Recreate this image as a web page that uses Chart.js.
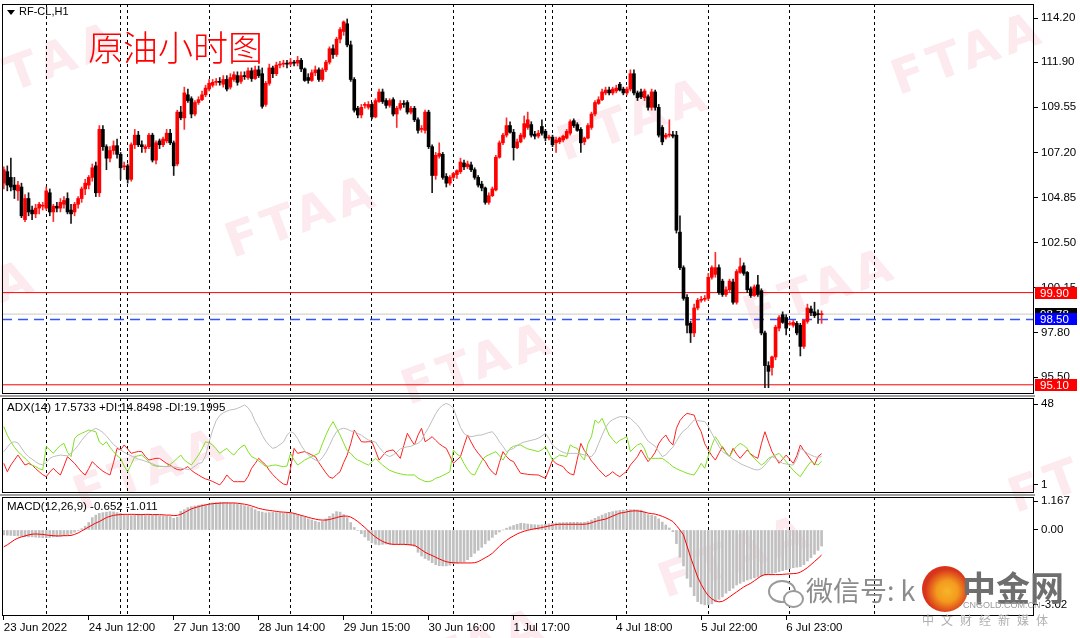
<!DOCTYPE html>
<html>
<head>
<meta charset="utf-8">
<title>RF-CL,H1</title>
<script src="https://cdn.jsdelivr.net/npm/chart.js@4.4.1/dist/chart.umd.min.js"></script>
<style>
  body { margin: 0; background: #fff; }
  #wrap { position: relative; width: 1080px; height: 638px; overflow: hidden; font-family: 'Liberation Sans', Arial, sans-serif; }
  canvas { position: absolute; left: 0; z-index: 1; }
  .wm { position: absolute; z-index: 0; color: rgba(235, 90, 130, 0.14); font: bold 48px 'DejaVu Sans', sans-serif;
        letter-spacing: 6px; white-space: nowrap; transform: translate(-50%, -50%) rotate(-20deg); }
  .txt { position: absolute; z-index: 2; white-space: nowrap; }
  .divider { position: absolute; left: 0; width: 1035px; height: 2px; background: #a0a0a0; z-index: 2; }
</style>
</head>
<body>
<div id="wrap">
  <div class="wm" style="left:45px;top:62px">FTAA</div>
  <div class="wm" style="left:302px;top:215px">FTAA</div>
  <div class="wm" style="left:634px;top:118px">FTAA</div>
  <div class="wm" style="left:968px;top:52px">FTAA</div>
  <div class="wm" style="left:-40px;top:300px">FTAA</div>
  <div class="wm" style="left:478px;top:362px">FTAA</div>
  <div class="wm" style="left:820px;top:288px">FTAA</div>
  <div class="wm" style="left:150px;top:468px">FTAA</div>
  <div class="wm" style="left:1085px;top:470px">FTAA</div>
  <div class="wm" style="left:735px;top:555px">FTAA</div>
  <div class="wm" style="left:470px;top:648px">FTAA</div>

  <canvas id="mainChart" width="1080" height="395" style="top:0"></canvas>
  <canvas id="adxChart" width="1080" height="100" style="top:395px"></canvas>
  <canvas id="macdChart" width="1080" height="143" style="top:495px"></canvas>

  <div class="divider" style="top:395px"></div>
  <div class="divider" style="top:494px"></div>

  <div class="txt" style="left:7px;top:10px;width:0;height:0;border-left:4px solid transparent;border-right:4px solid transparent;border-top:5px solid #000"></div>
  <div class="txt" style="left:19px;top:5px;font-size:11px;color:#000">RF-CL,H1</div>
  <div class="txt" style="left:88px;top:20px;font:300 35px 'Noto Sans CJK SC', sans-serif;color:#ff0000">原油小时图</div>
  <div class="txt" style="left:7px;top:401px;font-size:11.5px;color:#000">ADX(14) 17.5733 +DI:14.8498 -DI:19.1995</div>
  <div class="txt" style="left:7px;top:500px;font-size:11.5px;color:#000">MACD(12,26,9) -0.652 -1.011</div>

  <div class="txt" style="left:768px;top:580px;width:24px;height:19px;border:2px solid #9a9a9a;border-radius:50%"></div>
  <div class="txt" style="left:783px;top:590px;width:17px;height:14px;border:2px solid #9a9a9a;border-radius:50%;background:#fff"></div>
  <div class="txt" style="left:806px;top:570px;font:27px 'Noto Sans CJK SC', sans-serif;color:#8c8c8c">微信号: k</div>
  <div class="txt" style="left:922px;top:566px;width:46px;height:46px;border-radius:50%;background:radial-gradient(circle at 55% 55%, #f7b52a 0, #f39a1e 30%, #d8341c 62%)"></div>
  <div class="txt" style="left:962px;top:562px;font:bold 34px 'Noto Sans CJK SC', sans-serif;color:#6e6e6e">中金网</div>
  <div class="txt" style="left:963px;top:600px;font-size:9px;color:#9a9a9a">CNGOLD.COM.CN</div>
  <div class="txt" style="left:922px;top:611px;font:12px 'Noto Sans CJK SC', sans-serif;color:#b0b0b0;letter-spacing:7px">中文财经新媒体</div>
</div>

<script>
// ---- data ----
const timeLabels = ['23 Jun 2022', '24 Jun 12:00', '27 Jun 13:00', '28 Jun 14:00', '29 Jun 15:00',
                    '30 Jun 16:00', '1 Jul 17:00', '4 Jul 18:00', '5 Jul 22:00', '6 Jul 23:00'];
const labelBars = [0, 24, 48, 72, 96, 120, 144, 173, 197, 221];
const daySeparators = [12, 33, 35, 58, 81, 104, 127, 153, 155, 176, 199, 222, 246];

const opens = [
  105.60, 106.20, 105.90, 105.50, 105.20, 105.40, 103.70, 104.80, 104.20, 104.00,
  104.30, 104.40, 104.30, 105.10, 104.10, 104.40, 104.30, 104.50, 104.80, 104.20,
  104.10, 104.50, 104.80, 105.30, 105.50, 105.90, 106.50, 105.10, 108.40, 107.50,
  106.90, 107.30, 107.55, 107.10, 106.45, 106.50, 105.80, 107.60, 108.10, 107.60,
  107.40, 107.50, 108.10, 106.80, 107.80, 107.60, 107.80, 108.20, 107.70, 106.60,
  109.30, 109.00, 110.20, 110.00, 109.20, 109.80, 109.95, 110.20, 110.50, 110.70,
  110.85, 110.90, 110.75, 111.00, 110.60, 111.00, 111.20, 110.90, 111.20, 111.10,
  111.45, 111.05, 111.50, 111.30, 109.70, 110.80, 111.60, 111.30, 111.75, 111.80,
  111.85, 111.80, 111.90, 111.85, 112.00, 111.55, 111.10, 110.95, 111.35, 111.50,
  111.00, 111.50, 111.90, 112.60, 112.30, 113.10, 113.50, 113.90, 112.80, 111.00,
  109.50, 109.15, 109.65, 109.55, 109.70, 109.05, 109.85, 110.35, 109.90, 109.65,
  109.95, 109.20, 109.50, 109.75, 109.80, 109.30, 109.50, 108.90, 108.40, 108.35,
  109.30, 107.50, 106.00, 107.00, 107.10, 105.95, 105.60, 105.90, 106.05, 106.20,
  106.65, 106.45, 106.55, 106.30, 105.90, 105.55, 105.35, 104.60, 104.95, 105.25,
  106.95, 107.70, 108.10, 108.60, 108.25, 107.45, 107.75, 108.00, 108.50, 108.65,
  108.15, 108.05, 108.55, 108.30, 107.95, 108.00, 107.70, 107.75, 107.85, 107.95,
  108.20, 108.85, 108.65, 108.40, 107.75, 107.95, 108.50, 109.20, 109.75, 109.95,
  110.30, 110.45, 110.30, 110.40, 110.75, 110.50, 110.30, 110.50, 111.30, 110.30,
  110.35, 110.05, 110.10, 109.55, 110.35, 109.55, 108.50, 108.00, 108.10, 108.12,
  108.10, 103.05, 101.20, 99.65, 98.30, 97.80, 99.10, 99.50, 99.55, 99.60,
  100.70, 100.85, 101.20, 100.50, 99.80, 100.05, 100.45, 99.40, 100.95, 101.30,
  100.95, 100.10, 99.75, 100.30, 100.00, 97.80, 96.10, 96.00, 96.55, 98.05,
  98.75, 98.60, 98.25, 98.20, 98.30, 98.20, 97.10, 98.40, 99.05, 98.90,
  98.80, 98.75
];
const highs = [
  106.45, 106.50, 106.90, 105.90, 105.70, 105.60, 105.00, 105.10, 104.40, 104.50,
  104.60, 104.60, 105.40, 105.30, 104.50, 104.60, 104.80, 104.90, 105.10, 104.50,
  104.60, 104.90, 105.40, 105.80, 106.00, 106.60, 106.70, 108.60, 108.60, 107.60,
  107.50, 107.80, 107.90, 107.20, 106.70, 106.60, 107.70, 108.40, 108.30, 107.80,
  107.60, 108.20, 108.20, 107.80, 107.90, 108.00, 108.40, 108.40, 107.80, 109.40,
  109.60, 110.60, 110.50, 110.10, 109.90, 110.10, 110.40, 110.70, 111.00, 111.00,
  111.05, 111.10, 111.20, 111.20, 111.30, 111.40, 111.40, 111.40, 111.40, 111.60,
  111.60, 111.70, 111.70, 111.60, 110.90, 111.80, 111.70, 111.90, 111.95, 112.00,
  112.00, 112.10, 112.00, 112.20, 112.10, 111.60, 111.30, 111.50, 111.70, 111.60,
  111.60, 112.00, 112.70, 112.80, 113.20, 113.70, 114.05, 114.15, 113.00, 111.10,
  109.60, 109.70, 109.80, 109.85, 109.80, 110.00, 110.50, 110.50, 110.00, 110.00,
  110.05, 109.60, 109.90, 109.90, 109.90, 109.60, 109.60, 109.00, 108.60, 109.40,
  109.40, 107.60, 107.20, 107.70, 107.20, 106.10, 106.00, 106.15, 106.30, 106.90,
  106.80, 106.75, 106.70, 106.40, 106.00, 105.70, 105.40, 105.10, 105.40, 107.05,
  107.80, 108.20, 109.00, 108.80, 108.40, 107.90, 108.20, 109.10, 109.30, 108.80,
  108.30, 108.35, 108.90, 108.40, 108.10, 108.10, 108.00, 108.00, 108.10, 108.40,
  108.90, 108.95, 108.75, 108.50, 108.00, 108.70, 109.30, 109.90, 110.10, 110.50,
  110.60, 110.60, 110.60, 110.70, 110.85, 110.60, 110.60, 111.50, 111.50, 110.40,
  110.50, 110.50, 110.20, 110.50, 110.45, 109.70, 108.60, 108.20, 108.90, 108.30,
  108.30, 103.90, 101.30, 99.80, 98.40, 99.30, 99.60, 99.70, 99.75, 100.90,
  101.30, 102.00, 101.35, 100.60, 100.20, 100.60, 100.60, 101.10, 101.70, 101.45,
  101.00, 100.20, 100.30, 100.80, 100.10, 97.90, 96.30, 96.60, 98.20, 98.70,
  98.90, 98.75, 98.40, 98.45, 98.40, 98.30, 98.50, 99.30, 99.20, 99.40,
  99.00, 98.95
];
const lows = [
  105.30, 105.20, 105.20, 104.80, 104.70, 103.80, 103.60, 103.90, 103.70, 103.80,
  104.00, 104.20, 104.20, 103.90, 103.60, 104.10, 104.10, 104.30, 104.00, 103.50,
  103.90, 104.30, 104.60, 105.00, 105.30, 105.70, 104.90, 104.90, 107.30, 106.30,
  106.70, 107.10, 106.90, 105.80, 106.30, 105.60, 105.70, 107.40, 107.50, 107.20,
  107.20, 107.40, 106.70, 106.60, 107.40, 107.50, 107.70, 107.60, 106.00, 106.50,
  108.90, 108.40, 109.80, 109.00, 109.10, 109.70, 109.90, 110.10, 110.40, 110.60,
  110.70, 110.70, 110.60, 110.40, 110.50, 110.90, 110.70, 110.80, 111.00, 111.00,
  110.90, 111.00, 111.10, 109.50, 109.60, 110.70, 111.10, 111.20, 111.60, 111.65,
  111.60, 111.70, 111.70, 111.70, 111.40, 110.90, 110.80, 110.90, 111.20, 110.90,
  110.90, 111.40, 111.80, 112.10, 112.20, 112.90, 113.30, 112.70, 110.90, 109.30,
  109.00, 109.00, 109.50, 109.45, 108.95, 109.00, 109.80, 109.75, 109.50, 109.55,
  109.10, 108.50, 109.40, 109.55, 109.20, 109.20, 108.80, 108.20, 108.25, 108.20,
  107.40, 105.10, 105.80, 106.90, 105.80, 105.40, 105.50, 105.80, 105.85, 106.10,
  106.30, 106.35, 106.20, 105.80, 105.40, 105.20, 104.50, 104.50, 104.90, 105.20,
  106.90, 107.60, 108.00, 108.20, 106.80, 107.40, 107.70, 107.90, 108.40, 108.00,
  107.90, 107.95, 108.10, 107.80, 107.85, 107.50, 107.20, 107.65, 107.75, 107.90,
  108.10, 108.50, 108.30, 107.20, 107.60, 107.90, 108.40, 109.10, 109.70, 109.90,
  110.20, 110.20, 110.20, 110.30, 110.40, 110.20, 110.20, 110.40, 110.20, 109.90,
  110.00, 109.90, 109.40, 109.40, 109.40, 108.00, 107.60, 107.90, 108.00, 107.95,
  103.00, 101.10, 99.50, 97.80, 97.30, 97.60, 99.00, 99.40, 99.45, 99.50,
  100.60, 100.70, 99.80, 99.70, 99.70, 99.90, 99.30, 99.30, 100.90, 100.80,
  99.90, 99.65, 99.70, 99.70, 97.70, 94.95, 94.95, 95.60, 96.40, 97.90,
  98.30, 97.70, 98.20, 98.10, 97.70, 96.60, 97.00, 98.30, 98.70, 98.60,
  98.30, 98.30
];
const closes = [
  106.30, 105.50, 105.40, 105.25, 105.50, 103.90, 104.80, 104.10, 104.00, 104.30,
  104.50, 104.42, 105.20, 104.10, 104.40, 104.30, 104.60, 104.70, 104.10, 104.00,
  104.50, 104.80, 105.30, 105.60, 105.90, 106.40, 105.10, 108.40, 107.50, 106.90,
  107.30, 107.55, 107.10, 106.40, 106.50, 105.80, 107.60, 108.10, 107.60, 107.50,
  107.50, 108.10, 106.80, 107.70, 107.60, 107.90, 108.20, 107.70, 106.50, 109.30,
  109.00, 110.30, 109.90, 109.20, 109.80, 109.95, 110.20, 110.55, 110.80, 110.85,
  110.90, 110.85, 111.00, 110.50, 111.10, 111.25, 110.85, 111.20, 111.15, 111.45,
  111.05, 111.50, 111.20, 109.60, 110.80, 111.60, 111.30, 111.75, 111.80, 111.85,
  111.80, 111.90, 111.85, 112.00, 111.55, 110.95, 110.95, 111.35, 111.50, 111.00,
  111.50, 111.90, 112.60, 112.30, 113.10, 113.60, 114.00, 112.80, 111.00, 109.40,
  109.15, 109.55, 109.70, 109.70, 109.05, 109.90, 110.35, 109.85, 109.65, 109.90,
  109.20, 109.50, 109.75, 109.70, 109.30, 109.50, 108.90, 108.35, 108.45, 109.30,
  107.50, 106.00, 107.05, 107.15, 105.90, 105.60, 105.90, 106.10, 106.25, 106.70,
  106.45, 106.60, 106.30, 105.90, 105.50, 105.35, 104.60, 104.95, 105.30, 106.95,
  107.70, 108.10, 108.60, 108.25, 107.45, 107.75, 108.10, 108.70, 108.90, 108.10,
  108.05, 108.20, 108.20, 107.95, 108.00, 107.60, 107.85, 107.95, 108.05, 108.30,
  108.80, 108.60, 108.35, 107.70, 107.95, 108.60, 109.20, 109.80, 109.95, 110.35,
  110.45, 110.30, 110.50, 110.55, 110.45, 110.30, 110.50, 111.30, 110.30, 110.05,
  110.10, 110.40, 109.55, 110.35, 109.55, 108.10, 107.75, 108.10, 108.12, 108.05,
  103.15, 101.20, 99.60, 98.20, 97.80, 99.10, 99.50, 99.55, 99.60, 100.70,
  101.20, 101.20, 99.90, 99.80, 100.05, 100.50, 99.40, 101.00, 101.25, 100.90,
  100.05, 99.75, 100.20, 99.80, 97.80, 96.10, 95.80, 96.55, 98.10, 98.60,
  98.35, 98.05, 98.30, 98.35, 97.80, 97.10, 98.45, 99.10, 98.85, 98.70,
  98.75, 98.78
];

const priceTicks = [95.50, 97.80, 100.15, 102.50, 104.85, 107.20, 109.55, 111.90, 114.20];
const priceLevels = [99.90, 98.78, 98.50, 95.10];

const adxMain = [
  20.4, 23.0, 25.5, 26.2, 25.5, 22.5, 19.5, 17.5, 16.0, 14.5,
  13.2, 12.8, 14.0, 16.5, 17.5, 18.0, 18.4, 18.2, 18.0, 19.5,
  21.5, 24.0, 27.0, 29.5, 31.5, 33.0, 34.0, 33.0, 31.5, 29.5,
  27.0, 24.5, 23.0, 21.5, 20.0, 19.0, 18.0, 17.0, 16.0, 15.5,
  14.8, 14.0, 13.3, 12.5, 12.0, 11.8, 11.7, 11.7, 11.5, 11.2,
  10.8, 10.5, 10.0, 10.5, 12.0, 13.5, 14.0, 18.0, 26.0, 33.0,
  38.5, 41.5, 43.0, 44.0, 44.7, 45.0, 45.6, 46.5, 47.6, 46.0,
  43.0, 38.0, 34.5, 30.0, 26.5, 24.0, 22.3, 23.0, 24.5, 26.0,
  30.0, 32.0, 31.0, 28.0, 24.0, 21.0, 18.5, 16.8, 15.5, 14.6,
  17.0, 20.0, 24.0, 28.5, 32.0, 33.5, 34.0, 33.5, 32.5, 32.0,
  31.0, 30.0, 28.5, 27.2, 26.5, 26.0, 23.0, 20.5, 18.5, 17.5,
  18.5, 20.0, 22.0, 22.8, 23.2, 23.5, 24.5, 25.2, 27.0, 31.0,
  34.5, 38.5, 42.5, 45.6, 47.5, 48.5, 47.5, 45.6, 40.0, 34.5,
  31.0, 29.5, 29.1, 29.5, 30.0, 30.1, 30.8, 31.5, 32.0, 29.5,
  26.2, 23.5, 20.4, 21.5, 22.3, 24.0, 25.2, 26.0, 26.5, 27.0,
  27.5, 28.2, 29.5, 31.1, 28.0, 24.3, 22.5, 21.0, 20.0, 19.4,
  19.4, 19.4, 19.4, 19.0, 18.5, 17.8, 17.5, 20.0, 25.0, 30.0,
  34.5, 37.5, 39.0, 40.0, 40.8, 40.7, 40.5, 39.8, 37.8, 35.9,
  33.0, 29.5, 26.5, 25.0, 23.5, 20.5, 17.5, 18.5, 21.0, 23.0,
  26.5, 30.0, 32.5, 34.0, 36.5, 38.8, 38.5, 38.2, 37.9, 35.0,
  31.0, 27.2, 23.5, 20.5, 19.0, 17.5, 16.0, 14.8, 13.5, 12.5,
  11.7, 10.8, 10.0, 9.7, 10.5, 12.6, 15.0, 17.5, 16.5, 15.0,
  13.6, 13.2, 12.8, 12.6, 16.0, 22.3, 21.0, 19.5, 18.4, 17.5,
  17.0, 17.57
];
const plusDI = [
  35.0, 30.0, 26.2, 23.0, 20.5, 18.4, 16.5, 14.5, 12.5, 11.7,
  10.5, 9.7, 23.3, 21.5, 19.4, 22.0, 24.0, 25.2, 20.0, 17.5,
  28.0, 30.1, 31.1, 32.0, 33.0, 32.5, 32.0, 26.0, 24.3, 26.2,
  23.0, 20.4, 18.0, 16.5, 12.0, 8.7, 13.0, 17.5, 18.0, 18.4,
  16.5, 14.5, 12.6, 12.0, 11.7, 11.7, 11.7, 13.0, 14.6, 16.5,
  18.4, 15.5, 14.0, 12.6, 15.5, 18.4, 22.0, 26.2, 25.5, 24.3,
  22.0, 19.4, 21.0, 22.3, 20.0, 18.4, 21.0, 23.0, 24.3, 20.5,
  17.5, 16.5, 15.0, 13.5, 11.7, 12.0, 12.5, 12.6, 12.0, 11.7,
  12.0, 19.4, 15.5, 12.6, 14.0, 15.5, 16.5, 17.5, 18.5, 19.4,
  25.0, 30.1, 34.5, 37.9, 34.0, 30.1, 25.5, 21.0, 19.4, 17.0,
  15.5, 14.6, 13.5, 12.6, 14.5, 16.5, 14.5, 12.6, 11.0, 9.5,
  8.7, 8.0, 7.5, 7.0, 6.8, 6.8, 6.8, 5.0, 4.0, 3.0,
  2.9, 3.5, 4.9, 5.5, 6.5, 7.5, 8.7, 21.4, 19.0, 17.5,
  13.5, 10.0, 7.5, 6.8, 11.0, 15.0, 17.5, 18.5, 19.5, 20.4,
  18.0, 15.5, 19.0, 22.3, 23.5, 24.0, 24.3, 23.0, 22.0, 21.5,
  21.0, 20.4, 21.5, 23.3, 19.5, 15.5, 17.0, 18.4, 18.0, 17.5,
  24.3, 23.0, 22.3, 18.0, 15.5, 25.0, 29.1, 38.8, 37.0, 39.8,
  35.0, 30.1, 27.5, 25.2, 27.0, 28.0, 29.1, 20.4, 22.5, 24.3,
  25.2, 22.0, 16.5, 16.5, 16.5, 16.5, 16.5, 15.0, 13.5, 11.7,
  10.5, 9.5, 8.7, 7.8, 7.2, 6.8, 10.0, 13.6, 10.7, 18.0,
  24.0, 29.1, 26.0, 22.3, 20.0, 17.5, 21.0, 23.5, 25.2, 24.0,
  22.3, 18.5, 16.5, 14.5, 12.6, 14.0, 16.5, 17.5, 18.5, 19.4,
  17.0, 14.6, 12.0, 9.5, 7.5, 5.8, 9.0, 12.0, 14.6, 13.5,
  12.6, 14.85
];
const minusDI = [
  13.6, 8.7, 12.6, 15.5, 18.4, 15.5, 12.6, 13.5, 12.6, 10.5,
  8.7, 7.0, 5.8, 8.5, 10.7, 8.5, 6.8, 12.0, 17.5, 15.5,
  13.6, 11.0, 8.5, 6.8, 10.5, 14.6, 12.5, 10.7, 9.0, 7.8,
  6.8, 14.0, 22.3, 21.4, 24.3, 22.0, 19.4, 20.0, 20.5, 20.4,
  17.5, 15.5, 16.0, 16.5, 16.5, 15.0, 13.5, 12.6, 11.0, 10.0,
  9.7, 10.5, 11.7, 9.5, 8.0, 6.8, 5.5, 4.5, 3.9, 3.0,
  2.0, 1.0, 3.5, 6.8, 4.5, 2.9, 2.9, 2.9, 2.9, 6.0,
  10.7, 13.5, 16.5, 14.5, 12.6, 9.5, 7.0, 4.9, 3.0, 1.5,
  1.0, 10.7, 22.3, 19.4, 20.0, 20.4, 19.5, 18.5, 17.5, 14.0,
  11.0, 8.0, 5.5, 4.9, 7.0, 8.7, 14.0, 18.4, 25.0, 33.0,
  29.5, 26.2, 26.0, 26.2, 26.2, 21.0, 15.5, 18.0, 20.4, 21.0,
  21.4, 19.0, 16.5, 24.0, 31.1, 27.5, 24.3, 30.0, 34.0, 26.2,
  27.5, 29.1, 27.0, 25.0, 23.5, 22.3, 18.0, 13.6, 15.5, 17.5,
  24.0, 30.1, 26.0, 22.3, 19.5, 17.0, 14.6, 11.0, 8.5, 6.8,
  14.0, 20.4, 17.5, 15.5, 14.6, 11.0, 7.8, 7.5, 7.2, 7.0,
  6.9, 6.8, 5.8, 4.9, 10.0, 15.5, 13.5, 12.5, 11.7, 9.0,
  7.5, 6.8, 16.0, 25.2, 21.0, 18.4, 15.0, 12.6, 10.0, 8.0,
  5.8, 7.0, 8.7, 7.0, 5.8, 7.5, 9.0, 12.6, 15.0, 17.5,
  21.4, 18.0, 14.6, 17.0, 20.0, 25.0, 28.0, 30.1, 26.5, 24.3,
  34.0, 38.5, 41.0, 42.7, 42.2, 41.7, 36.0, 32.0, 25.0, 21.4,
  18.0, 15.5, 19.5, 23.3, 20.0, 17.5, 22.3, 19.0, 16.5, 19.0,
  21.4, 19.0, 17.5, 16.5, 25.0, 32.0, 26.0, 20.4, 17.0, 13.6,
  16.0, 18.4, 16.0, 13.6, 18.0, 24.3, 21.0, 18.4, 15.5, 12.6,
  17.5, 19.2
];
const adxTicks = [48, 1];

const macdMain = [
  -0.20, -0.21, -0.22, -0.23, -0.24, -0.26, -0.27, -0.28, -0.28, -0.29,
  -0.30, -0.31, -0.31, -0.30, -0.28, -0.27, -0.25, -0.23, -0.20, -0.15,
  -0.09, -0.03, 0.05, 0.15, 0.30, 0.50, 0.60, 0.67, 0.70, 0.72,
  0.74, 0.73, 0.70, 0.67, 0.62, 0.60, 0.58, 0.61, 0.64, 0.63,
  0.62, 0.61, 0.60, 0.62, 0.58, 0.57, 0.56, 0.54, 0.47, 0.52,
  0.75, 0.82, 0.90, 0.94, 0.97, 1.00, 1.02, 1.04, 1.06, 1.09,
  1.11, 1.12, 1.11, 1.10, 1.08, 1.07, 1.05, 1.02, 0.98, 0.95,
  0.90, 0.82, 0.75, 0.72, 0.69, 0.70, 0.71, 0.70, 0.69, 0.68,
  0.68, 0.67, 0.65, 0.62, 0.58, 0.52, 0.45, 0.40, 0.35, 0.31,
  0.36, 0.45, 0.55, 0.65, 0.74, 0.72, 0.62, 0.50, 0.30, 0.10,
  -0.02, -0.15, -0.28, -0.42, -0.52, -0.58, -0.60, -0.58, -0.57, -0.58,
  -0.59, -0.57, -0.58, -0.58, -0.60, -0.62, -0.66, -0.90, -1.05, -1.15,
  -1.22, -1.32, -1.40, -1.44, -1.45, -1.45, -1.42, -1.36, -1.33, -1.30,
  -1.28, -1.20, -1.08, -0.94, -0.82, -0.70, -0.56, -0.42, -0.30, -0.18,
  -0.08, 0.00, 0.07, 0.13, 0.18, 0.23, 0.27, 0.26, 0.24, 0.22,
  0.21, 0.20, 0.21, 0.23, 0.25, 0.27, 0.28, 0.29, 0.30, 0.30,
  0.31, 0.31, 0.31, 0.30, 0.31, 0.34, 0.40, 0.47, 0.54, 0.60,
  0.66, 0.71, 0.74, 0.77, 0.79, 0.80, 0.81, 0.82, 0.82, 0.81,
  0.80, 0.72, 0.62, 0.59, 0.55, 0.45, 0.32, 0.20, 0.08, -0.07,
  -0.55, -1.10, -1.45, -1.95, -2.30, -2.65, -2.89, -2.98, -3.02, -3.02,
  -2.98, -2.90, -2.80, -2.70, -2.55, -2.45, -2.35, -2.22, -2.15, -2.08,
  -2.02, -1.98, -1.93, -1.90, -1.87, -1.82, -1.78, -1.75, -1.72, -1.68,
  -1.64, -1.60, -1.56, -1.52, -1.50, -1.48, -1.40, -1.25, -1.12, -0.98,
  -0.82, -0.65
];
const macdSignal = [
  -0.68, -0.60, -0.50, -0.40, -0.33, -0.28, -0.24, -0.20, -0.17, -0.16,
  -0.17, -0.18, -0.20, -0.22, -0.23, -0.24, -0.24, -0.23, -0.23, -0.22,
  -0.18, -0.12, -0.04, 0.04, 0.12, 0.20, 0.28, 0.34, 0.42, 0.50,
  0.55, 0.59, 0.61, 0.62, 0.63, 0.63, 0.63, 0.63, 0.62, 0.62,
  0.63, 0.63, 0.62, 0.62, 0.62, 0.61, 0.60, 0.60, 0.58, 0.59,
  0.63, 0.70, 0.78, 0.85, 0.90, 0.94, 0.98, 1.01, 1.04, 1.06,
  1.07, 1.08, 1.09, 1.09, 1.09, 1.09, 1.08, 1.06, 1.04, 1.01,
  0.97, 0.92, 0.87, 0.84, 0.81, 0.79, 0.77, 0.75, 0.73, 0.72,
  0.71, 0.70, 0.67, 0.63, 0.59, 0.55, 0.51, 0.47, 0.44, 0.41,
  0.40, 0.40, 0.42, 0.46, 0.50, 0.54, 0.56, 0.56, 0.52, 0.44,
  0.34, 0.22, 0.10, -0.04, -0.17, -0.28, -0.38, -0.46, -0.52, -0.56,
  -0.58, -0.58, -0.58, -0.58, -0.59, -0.60, -0.62, -0.70, -0.80, -0.90,
  -0.97, -1.03, -1.10, -1.17, -1.23, -1.28, -1.31, -1.32, -1.33, -1.33,
  -1.33, -1.33, -1.33, -1.32, -1.28, -1.20, -1.12, -1.04, -0.94, -0.80,
  -0.66, -0.53, -0.42, -0.32, -0.24, -0.16, -0.10, -0.05, -0.01, 0.02,
  0.05, 0.07, 0.10, 0.13, 0.16, 0.19, 0.22, 0.23, 0.23, 0.23,
  0.23, 0.23, 0.23, 0.23, 0.23, 0.25, 0.29, 0.34, 0.38, 0.41,
  0.44, 0.50, 0.56, 0.62, 0.68, 0.70, 0.73, 0.76, 0.77, 0.77,
  0.75, 0.72, 0.68, 0.66, 0.64, 0.60, 0.55, 0.49, 0.42, 0.34,
  0.18, 0.00, -0.20, -0.65, -1.10, -1.50, -1.90, -2.20, -2.45, -2.65,
  -2.78, -2.86, -2.90, -2.88, -2.80, -2.70, -2.60, -2.50, -2.40, -2.30,
  -2.22, -2.15, -2.05, -1.95, -1.85, -1.80, -1.80, -1.80, -1.80, -1.80,
  -1.79, -1.78, -1.77, -1.76, -1.75, -1.70, -1.62, -1.52, -1.40, -1.27,
  -1.15, -1.01
];
const macdTicks = [1.167, 0, -3.02];
const macdTickLabels = ['1.167', '0.00', '-3.02'];

// ---- layout ----
const X_MIN = -0.5, X_MAX = 291;
const AXIS_W = 46;
const FONT = "'Liberation Sans', Arial, sans-serif";
const bars = closes.map((c, i) => i);
const isUp = bars.map(i => closes[i] >= opens[i]);

// drop the extra room Chart.js keeps for edge labels so the plot areas line up exactly
function noEdgePadding(s) {
  s.paddingTop = 0; s.paddingBottom = 0; s.paddingLeft = 0; s.paddingRight = 0;
}

function xAxis(withLabels) {
  const tickValues = withLabels ? daySeparators.concat(labelBars) : daySeparators.slice();
  return {
    type: 'linear', min: X_MIN, max: X_MAX, offset: false,
    afterBuildTicks: s => { s.ticks = tickValues.map(v => ({ value: v })); },
    afterFit: s => { s.height = withLabels ? 22 : 0; noEdgePadding(s); },
    ticks: {
      display: withLabels, autoSkip: false, maxRotation: 0, align: 'start', padding: 1,
      color: '#000', font: { family: FONT, size: 11.5 },
      callback: v => { const k = labelBars.indexOf(v); return k >= 0 ? timeLabels[k] : ''; }
    },
    grid: {
      offset: false,
      color: c => (c.tick && daySeparators.includes(c.tick.value)) ? '#000' : 'rgba(0,0,0,0)',
      drawTicks: withLabels, tickLength: 4, tickBorderDash: [],
      tickColor: c => (c.tick && labelBars.includes(c.tick.value)) ? '#000' : 'rgba(0,0,0,0)'
    },
    border: { display: false, dash: [3, 3] }
  };
}

function yAxis(min, max, values, fmt) {
  return {
    position: 'right', min, max, beginAtZero: false,
    afterBuildTicks: s => { s.ticks = values.map(v => ({ value: v })); },
    afterFit: s => { s.width = AXIS_W; noEdgePadding(s); },
    ticks: { color: '#000', font: { family: FONT, size: 11.5 }, padding: 3, autoSkip: false, callback: fmt },
    grid: { drawOnChartArea: false, drawTicks: true, tickLength: 4, tickColor: '#000' },
    border: { display: false }
  };
}

const panelFrame = {
  id: 'panelFrame',
  afterDraw(chart) {
    const { ctx, chartArea: a } = chart;
    ctx.save();
    ctx.strokeStyle = '#000';
    ctx.lineWidth = 1;
    ctx.strokeRect(Math.round(a.left) + 0.5, Math.round(a.top) + 0.5,
                   Math.round(a.right - a.left) - 1, Math.round(a.bottom - a.top) - 1);
    ctx.restore();
  }
};

// coloured value boxes on the price axis
const tagColors = ['#ff0000', '#000000', '#0000ff', '#ff0000'];
const priceTags = {
  id: 'priceTags',
  afterDraw(chart) {
    const { ctx, chartArea: a } = chart;
    const y = chart.scales.y;
    ctx.save();
    ctx.font = '11.5px ' + FONT;
    ctx.textBaseline = 'middle';
    priceLevels.forEach((v, k) => {
      const py = Math.round(y.getPixelForValue(v));
      ctx.fillStyle = tagColors[k];
      ctx.fillRect(a.right + 1, py - 6, 42, 12);
      ctx.fillStyle = '#fff';
      ctx.fillText(v.toFixed(2), a.right + 6, py + 0.5);
    });
    ctx.restore();
  }
};

function baseOptions(padding, scales) {
  return {
    responsive: false, animation: false, events: [],
    layout: { padding },
    plugins: { legend: { display: false }, tooltip: { enabled: false } },
    scales
  };
}

const levelStyles = [
  { color: '#ff0000', dash: [] },
  { color: '#c8c8c8', dash: [] },
  { color: '#3355ff', dash: [10, 6] },
  { color: '#ff0000', dash: [] }
];

new Chart(document.getElementById('mainChart'), {
  type: 'bar',
  data: {
    datasets: [
      {
        data: bars.map(i => ({ x: i, y: [opens[i], closes[i]] })),
        backgroundColor: isUp.map(u => u ? '#ff0000' : '#000000'),
        barThickness: 3, grouped: false, minBarLength: 1, order: 0
      },
      {
        data: bars.map(i => ({ x: i, y: [lows[i], highs[i]] })),
        backgroundColor: isUp.map(u => u ? '#ff2a2a' : '#1a1a1a'),
        barThickness: 1, grouped: false, order: 1
      },
      ...priceLevels.map((lvl, k) => ({
        type: 'line',
        data: [{ x: X_MIN, y: lvl }, { x: X_MAX, y: lvl }],
        borderColor: levelStyles[k].color, borderDash: levelStyles[k].dash,
        borderWidth: k === 2 ? 1.3 : 1, pointRadius: 0, order: 2
      }))
    ]
  },
  options: baseOptions({ left: 2, right: 0, top: 4, bottom: 1 }, {
    x: xAxis(false),
    y: yAxis(94.62, 114.93, priceTicks, v => v.toFixed(2))
  }),
  plugins: [panelFrame, priceTags]
});

new Chart(document.getElementById('adxChart'), {
  type: 'line',
  data: {
    datasets: [
      { data: bars.map(i => ({ x: i, y: adxMain[i] })), borderColor: '#bdbdbd' },
      { data: bars.map(i => ({ x: i, y: plusDI[i] })), borderColor: '#80e020' },
      { data: bars.map(i => ({ x: i, y: minusDI[i] })), borderColor: '#ff2020' }
    ].map(d => Object.assign(d, { borderWidth: 1, pointRadius: 0, tension: 0 }))
  },
  options: baseOptions({ left: 2, right: 0, top: 3, bottom: 2 }, {
    x: xAxis(false),
    y: yAxis(-3.69, 51.65, adxTicks, v => String(v))
  }),
  plugins: [panelFrame]
});

new Chart(document.getElementById('macdChart'), {
  type: 'bar',
  data: {
    datasets: [
      {
        type: 'line',
        data: bars.map(i => ({ x: i, y: macdSignal[i] })),
        borderColor: '#ff0000', borderWidth: 1, pointRadius: 0, tension: 0, order: 0
      },
      {
        data: bars.map(i => ({ x: i, y: macdMain[i] })),
        backgroundColor: '#c0c0c0', barThickness: 2, grouped: false, order: 1
      }
    ]
  },
  options: baseOptions({ left: 2, right: 0, top: 2, bottom: 0 }, {
    x: xAxis(true),
    y: yAxis(-3.47, 1.33, macdTicks, (v, i) => macdTickLabels[i])
  }),
  plugins: [panelFrame]
});
</script>
</body>
</html>
